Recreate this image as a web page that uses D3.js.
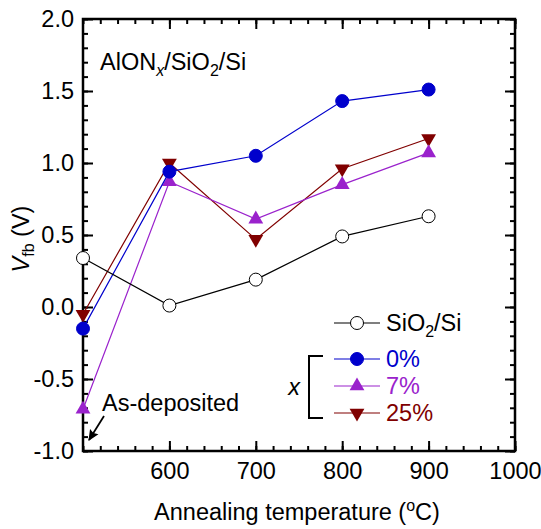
<!DOCTYPE html>
<html>
<head>
<meta charset="utf-8">
<script src="https://cdn.jsdelivr.net/npm/d3@7"></script>
<style>
body { margin: 0; background: #fff; }
text { font-family: "Liberation Sans", Arial, sans-serif; }
</style>
</head>
<body>
<div id="chart"></div>
<script>
// data
var temps = [500, 600, 700, 800, 900];
var sio2 = [0.34, 0.01, 0.19, 0.49, 0.63];
var x0 = [-0.15, 0.94, 1.05, 1.43, 1.51];
var x7 = [-0.71, 0.87, 0.61, 0.85, 1.07];
var x25 = [-0.05, 1.00, 0.47, 0.96, 1.17];
var xTickLabels = [600, 700, 800, 900, 1000];
var yTickLabels = [-1.0, -0.5, 0.0, 0.5, 1.0, 1.5, 2.0];

var width = 541, height = 529;
var margin = {left: 83, right: 26, top: 19, bottom: 78};
var fs = 23.5, fsSub = 16;

var svg = d3.select('#chart').append('svg')
	.attr('width', width)
	.attr('height', height);

var x = d3.scaleLinear().domain([500, 1000]).range([margin.left, width - margin.right]);
var y = d3.scaleLinear().domain([-1, 2]).range([height - margin.bottom, margin.top]);

var fmt = function (d) { return d3.format('.1f')(d).replace('\u2212', '-'); };

// minor ticks (all four sides, pointing in)
var minorX = d3.range(500, 1001, 20);
var minorY = d3.range(-1, 2.001, 0.1);

function axisGroup(axis, tx, ty) {
	var g = svg.append('g').attr('transform', 'translate(' + tx + ',' + ty + ')').call(axis);
	g.select('.domain').remove();
	g.selectAll('line').attr('stroke', '#000').attr('stroke-width', 2);
	g.selectAll('text').attr('font-size', fs).attr('fill', '#000')
		.style('font-family', '"Liberation Sans", Arial, sans-serif');
	return g;
}

axisGroup(d3.axisBottom(x).tickValues(minorX).tickSize(-5).tickFormat(''), 0, y(-1));
axisGroup(d3.axisTop(x).tickValues(minorX).tickSize(-5).tickFormat(''), 0, y(2));
axisGroup(d3.axisLeft(y).tickValues(minorY).tickSize(-5).tickFormat(''), x(500), 0);
axisGroup(d3.axisRight(y).tickValues(minorY).tickSize(-5).tickFormat(''), x(1000), 0);

axisGroup(d3.axisBottom(x).tickValues(xTickLabels).tickSize(-10).tickPadding(11).tickFormat(d3.format('d')), 0, y(-1));
axisGroup(d3.axisTop(x).tickValues(xTickLabels).tickSize(-10).tickFormat(''), 0, y(2));
axisGroup(d3.axisLeft(y).tickValues(yTickLabels).tickSize(-10).tickPadding(9).tickFormat(fmt), x(500), 0);
axisGroup(d3.axisRight(y).tickValues(yTickLabels).tickSize(-10).tickFormat(''), x(1000), 0);

// frame
svg.append('rect')
	.attr('x', x(500)).attr('y', y(2))
	.attr('width', x(1000) - x(500)).attr('height', y(-1) - y(2))
	.attr('fill', 'none').attr('stroke', '#000').attr('stroke-width', 2.5);

var series = [
	{name: '25%', values: x25, color: '#800000', shape: 'down'},
	{name: '7%', values: x7, color: '#9a22cc', shape: 'up'},
	{name: '0%', values: x0, color: '#0000cc', shape: 'circle'},
	{name: 'SiO2/Si', values: sio2, color: '#000', shape: 'open'}
];

var line = d3.line()
	.x(function (d, i) { return x(temps[i]); })
	.y(function (d) { return y(d); });

var triUp = d3.symbol().type(d3.symbolTriangle).size(95);

function drawMarker(g, shape, color, cx, cy) {
	if (shape === 'circle' || shape === 'open') {
		g.append('circle')
			.attr('cx', cx).attr('cy', cy).attr('r', 6.5)
			.attr('fill', shape === 'open' ? '#fff' : color)
			.attr('stroke', shape === 'open' ? '#000' : color)
			.attr('stroke-width', 1);
	} else {
		g.append('path')
			.attr('d', triUp())
			.attr('transform', 'translate(' + cx + ',' + cy + ')' + (shape === 'down' ? ' rotate(180)' : ''))
			.attr('fill', color);
	}
}

series.forEach(function (s) {
	var g = svg.append('g');
	g.append('path')
		.attr('d', line(s.values))
		.attr('fill', 'none')
		.attr('stroke', s.color)
		.attr('stroke-width', 1.2);
	s.values.forEach(function (v, i) {
		drawMarker(g, s.shape, s.color, x(temps[i]), y(v));
	});
});

// axis titles
svg.append('text')
	.attr('x', (x(500) + x(1000)) / 2 - 2)
	.attr('y', 520)
	.attr('text-anchor', 'middle')
	.attr('font-size', fs)
	.html('Annealing temperature (<tspan dy="-9" font-size="' + fsSub + '">o</tspan><tspan dy="9">C)</tspan>');

svg.append('text')
	.attr('transform', 'translate(29,' + 239 + ') rotate(-90)')
	.attr('text-anchor', 'middle')
	.attr('font-size', fs)
	.html('<tspan font-style="italic">V</tspan><tspan dy="5" font-size="' + fsSub + '">fb</tspan><tspan dy="-5"> (V)</tspan>');

// sample label
svg.append('text')
	.attr('x', 100).attr('y', 70)
	.attr('font-size', fs)
	.html('AlON<tspan dy="6" font-size="' + fsSub + '" font-style="italic">x</tspan><tspan dy="-6">/SiO</tspan><tspan dy="6" font-size="' + fsSub + '">2</tspan><tspan dy="-6">/Si</tspan>');

// as-deposited note and arrow
svg.append('text')
	.attr('x', 102).attr('y', 411)
	.attr('font-size', fs)
	.text('As-deposited');

svg.append('defs').append('marker')
	.attr('id', 'arrow')
	.attr('viewBox', '0 0 10 10')
	.attr('refX', 9).attr('refY', 5)
	.attr('markerWidth', 11).attr('markerHeight', 11)
	.attr('markerUnits', 'userSpaceOnUse')
	.attr('orient', 'auto')
	.append('path')
	.attr('d', 'M0,0.5 L10,5 L0,9.5 L1.5,5 Z')
	.attr('fill', '#000');

svg.append('line')
	.attr('x1', 104).attr('y1', 416)
	.attr('x2', 89).attr('y2', 440)
	.attr('stroke', '#000').attr('stroke-width', 1.8)
	.attr('marker-end', 'url(#arrow)');

// legend
var legRows = [
	{label: 'SiO2/Si', s: series[3], y: 323},
	{label: '0%', s: series[2], y: 359},
	{label: '7%', s: series[1], y: 386},
	{label: '25%', s: series[0], y: 413}
];

legRows.forEach(function (r) {
	var g = svg.append('g');
	g.append('line')
		.attr('x1', 334).attr('x2', 380)
		.attr('y1', r.y).attr('y2', r.y)
		.attr('stroke', r.s.color).attr('stroke-width', 1.2);
	drawMarker(g, r.s.shape, r.s.color, 357, r.y);
	var t = g.append('text')
		.attr('x', 386).attr('y', r.y + 8)
		.attr('font-size', fs)
		.attr('fill', r.s.color);
	if (r.label === 'SiO2/Si') {
		t.html('SiO<tspan dy="6" font-size="' + fsSub + '">2</tspan><tspan dy="-6">/Si</tspan>');
	} else {
		t.text(r.label);
	}
});

// bracket for x
svg.append('path')
	.attr('d', 'M323,356 H309 V418 H323')
	.attr('fill', 'none')
	.attr('stroke', '#000').attr('stroke-width', 2);

svg.append('text')
	.attr('x', 294).attr('y', 395)
	.attr('text-anchor', 'middle')
	.attr('font-size', fs)
	.attr('font-style', 'italic')
	.text('x');
</script>
</body>
</html>
